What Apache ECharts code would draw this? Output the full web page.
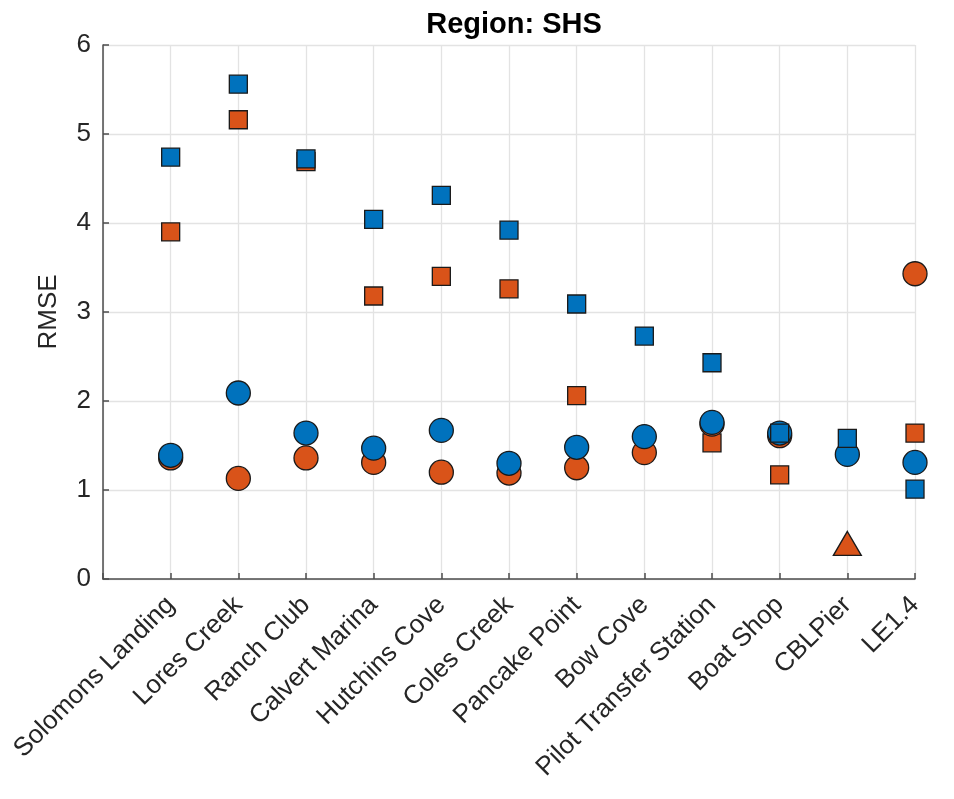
<!DOCTYPE html>
<html>
<head>
<meta charset="utf-8">
<script src="https://cdn.jsdelivr.net/npm/echarts@6/dist/echarts.min.js"></script>
<style>
html,body{margin:0;padding:0;background:#fff;}
#c{width:954px;height:799px;}
</style>
</head>
<body>
<div id="c"></div>
<script>
const stations = ["Solomons Landing","Lores Creek","Ranch Club","Calvert Marina","Hutchins Cove","Coles Creek","Pancake Point","Bow Cove","Pilot Transfer Station","Boat Shop","CBLPier","LE1.4"];
const blueSquares   = [4.74, 5.56, 4.72, 4.04, 4.31, 3.92, 3.09, 2.73, 2.43, 1.64, 1.58, 1.01];
const orangeSquares = [3.90, 5.16, 4.69, 3.18, 3.40, 3.26, 2.06, null, 1.53, 1.17, null, 1.64];
const blueCircles   = [1.39, 2.09, 1.64, 1.47, 1.67, 1.30, 1.48, 1.60, 1.76, 1.64, 1.40, 1.31];
const orangeCircles = [1.36, 1.13, 1.36, 1.31, 1.20, 1.19, 1.25, 1.42, 1.74, 1.61, null, 3.43];
const orangeTriangles = [null, null, null, null, null, null, null, null, null, null, 0.40, null];
const yTicks = [0, 1, 2, 3, 4, 5, 6];

const BLUE = '#0072BD', ORANGE = '#D95319';
const pts = arr => arr.map((v, i) => v == null ? null : [i + 1, v]).filter(p => p);

const chart = echarts.init(document.getElementById('c'), null, {renderer: 'canvas'});
const font = '"Liberation Sans", Arial, Helvetica, sans-serif';
const mk = (name, data, symbol, size, color, z) => ({
  name, type: 'scatter', data: pts(data), symbol, symbolSize: size, z,
  itemStyle: {color, borderColor: '#1a1a1a', borderWidth: 1.3, opacity: 1},
  emphasis: {disabled: true}
});
chart.setOption({
  animation: false,
  title: {
    text: 'Region: SHS', left: 509, top: 5, textAlign: 'center',
    textStyle: {fontFamily: font, fontWeight: 'bold', fontSize: 29, color: '#000'}
  },
  grid: {left: 103, right: 39, top: 45, bottom: 220, containLabel: false},
  xAxis: {
    type: 'value', min: 0, max: 12, interval: 1,
    axisLine: {show: true, onZero: false, lineStyle: {color: '#4d4d4d', width: 1.5}},
    axisTick: {show: true, inside: true, length: 6, lineStyle: {color: '#4d4d4d', width: 1.5}},
    splitLine: {show: true, lineStyle: {color: '#e3e3e3', width: 1.3}},
    axisLabel: {
      show: true, rotate: 45, margin: 22, fontFamily: font, fontSize: 26, color: '#262626',
      formatter: v => (v >= 1 && v <= stations.length) ? stations[v - 1] : ''
    }
  },
  yAxis: {
    type: 'value', min: 0, max: 6, interval: 1,
    name: 'RMSE', nameLocation: 'middle', nameGap: 41,
    nameTextStyle: {fontFamily: font, fontSize: 26, color: '#262626'},
    axisLine: {show: true, onZero: false, lineStyle: {color: '#4d4d4d', width: 1.5}},
    axisTick: {show: true, inside: true, length: 6, lineStyle: {color: '#4d4d4d', width: 1.5}},
    splitLine: {show: true, lineStyle: {color: '#e3e3e3', width: 1.3}},
    axisLabel: {
      fontFamily: font, fontSize: 26, color: '#262626', margin: 12,
      formatter: v => yTicks.includes(v) ? String(v) : ''
    }
  },
  series: [
    mk('orangeSquares', orangeSquares, 'rect', 18, ORANGE, 2),
    mk('orangeCircles', orangeCircles, 'circle', 24, ORANGE, 3),
    mk('blueCircles', blueCircles, 'circle', 24, BLUE, 4),
    mk('blueSquares', blueSquares, 'rect', 18, BLUE, 5),
    mk('orangeTriangles', orangeTriangles, 'triangle', [28, 24], ORANGE, 6)
  ]
});
</script>
</body>
</html>
